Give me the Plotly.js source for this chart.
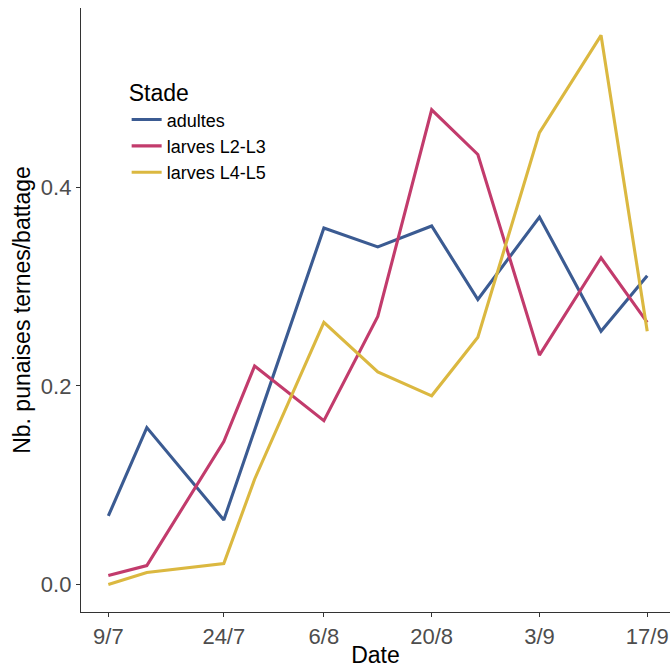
<!DOCTYPE html>
<html>
<head>
<meta charset="utf-8">
<script src="https://cdn.plot.ly/plotly-3.0.1.min.js"></script>
<style>html,body{margin:0;padding:0;background:#fff;}#chart{width:670px;height:668px;}</style>
</head>
<body>
<div id="chart"></div>
<script>
// Sampling dates (day/month, 2021)
const dates = ["2021-07-09","2021-07-14","2021-07-24","2021-07-28","2021-08-06","2021-08-13","2021-08-20","2021-08-26","2021-09-03","2021-09-11","2021-09-17"];
const seriesNames = ["adultes","larves L2-L3","larves L4-L5"];
const adultes   = [0.069, 0.158, 0.065, null,  0.359, 0.340, 0.361, 0.287, 0.370, 0.255, 0.311];
const larvesL23 = [0.009, 0.019, 0.144, 0.220, 0.165, 0.270, 0.478, 0.433, 0.231, 0.329, 0.264];
const larvesL45 = [0.000, 0.012, 0.021, 0.106, 0.264, 0.214, 0.190, 0.249, 0.455, 0.553, 0.255];
const xTickVals = ["2021-07-09","2021-07-24","2021-08-06","2021-08-20","2021-09-03","2021-09-17"];
const xTickText = ["9/7","24/7","6/8","20/8","3/9","17/9"];
const yTickVals = [0.0, 0.2, 0.4];
const colors = ["#3B5B92","#C23B6C","#DBB840"];

const allSeries = [adultes, larvesL23, larvesL45];
const traces = allSeries.map((ys, i) => ({
  type: "scatter", mode: "lines", name: seriesNames[i],
  x: dates, y: ys, connectgaps: true,
  line: {color: colors[i], width: 3.1}
}));

const font = "Liberation Sans, Arial, sans-serif";
const layout = {
  width: 670, height: 668,
  margin: {l: 81, r: 0, t: 8, b: 56},
  paper_bgcolor: "#fff", plot_bgcolor: "#fff",
  font: {family: font, color: "#000"},
  showlegend: true,
  legend: {
    x: 0.0775, y: 0.895, xanchor: "left", yanchor: "top",
    xref: "paper", yref: "paper",
    bgcolor: "rgba(0,0,0,0)",
    font: {size: 18, color: "#000", family: font},
    title: {text: "Stade", font: {size: 23, color: "#000", family: font}}
  },
  xaxis: {
    type: "date",
    range: ["2021-07-05 10:48", "2021-09-19 23:00"],
    tickmode: "array", tickvals: xTickVals, ticktext: xTickText,
    tickfont: {size: 22, color: "#4D4D4D", family: font},
    ticks: "outside", ticklen: 4, tickcolor: "#333", tickwidth: 1,
    showgrid: false, zeroline: false,
    showline: true, linecolor: "#333", linewidth: 1.2,
    title: {text: "Date", font: {size: 23, color: "#000", family: font}, standoff: 2}
  },
  yaxis: {
    range: [-0.0277, 0.5805],
    tickmode: "array", tickvals: yTickVals, tickformat: ".1f",
    tickfont: {size: 22, color: "#4D4D4D", family: font},
    ticks: "outside", ticklen: 4, tickcolor: "#333", tickwidth: 1,
    showgrid: false, zeroline: false,
    showline: true, linecolor: "#333", linewidth: 1.2,
    title: {text: "Nb. punaises ternes/battage", font: {size: 23, color: "#000", family: font}, standoff: 3}
  }
};

Plotly.newPlot("chart", traces, layout, {displayModeBar: false, staticPlot: true});
</script>
</body>
</html>
